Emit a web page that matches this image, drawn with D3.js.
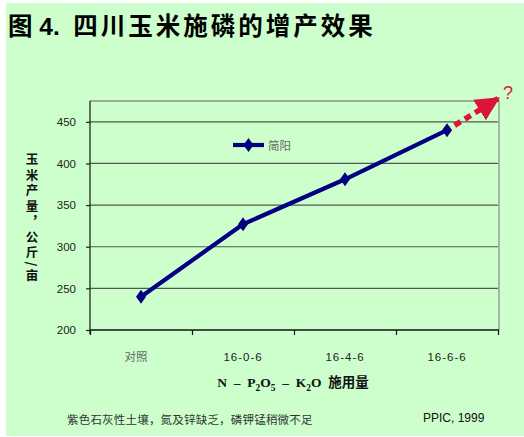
<!DOCTYPE html>
<html>
<head>
<meta charset="utf-8">
<script src="https://cdn.jsdelivr.net/npm/d3@7/dist/d3.min.js"></script>
<style>
  html, body { margin: 0; padding: 0; background: #fff; }
  svg { display: block; }
</style>
</head>
<body>
<svg id="chart" width="524" height="437"></svg>
<script>
// Fertiliser treatments (N-P2O5-K2O) and maize yield, kg/mu
const categories = ["对照", "16-0-6", "16-4-6", "16-6-6"];
const yieldJianyang = [240, 327, 381, 440];
const yTicks = [200, 250, 300, 350, 400, 450];
// Projected further gain beyond the last treatment (category index, yield)
const projection = [[3, 440], [3.5, 478]];

const svg = d3.select("#chart");
const W = 524, H = 437;

// Page background
svg.append("rect").attr("x", 6).attr("y", 3).attr("width", W - 6).attr("height", H - 4)
  .attr("fill", "#ccffcc");

// Title
const title = svg.append("text")
  .attr("x", 8).attr("y", 35)
  .attr("font-family", "Liberation Sans, Arial, 'Noto Sans CJK SC', sans-serif")
  .attr("font-weight", "bold").attr("font-size", 24.5)
  .attr("fill", "#000")
  .style("white-space", "pre");
title.append("tspan").text("图 4.  ");
title.append("tspan").attr("letter-spacing", 3).text("四川玉米施磷的增产效果");

const plot = { left: 90, right: 498, top: 101, bottom: 330 };

const x = d3.scaleLinear().domain([-0.5, categories.length - 0.5]).range([plot.left, plot.right]);
const y = d3.scaleLinear().domain([200, 475]).range([plot.bottom, plot.top]);

// Plot frame (top and right edges)
svg.append("path")
  .attr("d", `M${plot.left},${plot.top}H${plot.right + 1}V${plot.bottom}`)
  .attr("fill", "none").attr("stroke", "#8a948a").attr("stroke-width", 1.3);

// Horizontal gridlines
svg.append("g").selectAll("line").data(yTicks.filter(v => v > 200)).join("line")
  .attr("x1", plot.left).attr("x2", plot.right)
  .attr("y1", d => y(d)).attr("y2", d => y(d))
  .attr("stroke", "#4d5a4d").attr("stroke-width", 1.2);

// Y axis
const yAxis = svg.append("g")
  .attr("transform", `translate(${plot.left},0)`)
  .call(d3.axisLeft(y).tickValues(yTicks).tickSize(4).tickPadding(10));
yAxis.select(".domain").attr("stroke", "#222").attr("stroke-width", 1.3)
  .attr("d", `M0,${plot.top}V${plot.bottom + 4}`);
yAxis.selectAll(".tick line").attr("stroke", "#222").attr("stroke-width", 1.2);
yAxis.selectAll(".tick text")
  .attr("font-family", "Liberation Sans, Arial, sans-serif")
  .attr("font-size", 11.5).attr("fill", "#222");

// X axis with ticks at category boundaries
const boundaries = d3.range(categories.length + 1).map(i => i - 0.5);
const xAxis = svg.append("g")
  .attr("transform", `translate(0,${plot.bottom})`)
  .call(d3.axisBottom(x).tickValues(boundaries).tickSize(5).tickFormat(""));
xAxis.select(".domain").attr("stroke", "#111").attr("stroke-width", 1.3)
  .attr("d", `M${plot.left},0H${plot.right + 1}`);
xAxis.selectAll(".tick line").attr("stroke", "#111").attr("stroke-width", 1.2);

// Category labels
svg.append("g").selectAll("text").data(categories).join("text")
  .attr("x", (d, i) => x(i) + (i === 0 ? -5 : 0))
  .attr("y", plot.bottom + 31)
  .attr("text-anchor", "middle")
  .attr("font-family", (d, i) => i === 0 ? "'Noto Sans CJK SC', sans-serif" : "Liberation Sans, Arial, sans-serif")
  .attr("font-size", 11.5)
  .attr("letter-spacing", (d, i) => i === 0 ? 0 : 1)
  .attr("fill", (d, i) => i === 0 ? "#666" : "#222")
  .text(d => d);

// X axis title: N - P2O5 - K2O 施用量
const xt = svg.append("text")
  .attr("x", 293).attr("y", 387)
  .attr("text-anchor", "middle")
  .attr("font-family", "Liberation Serif, 'Times New Roman', 'Noto Sans CJK SC', serif")
  .attr("font-weight", "bold").attr("font-size", 13.5).attr("fill", "#111")
  .style("white-space", "pre");
xt.append("tspan").text("N  –  P");
xt.append("tspan").attr("font-size", 9.5).attr("dy", 3.5).text("2");
xt.append("tspan").attr("dy", -3.5).text("O");
xt.append("tspan").attr("font-size", 9.5).attr("dy", 3.5).text("5");
xt.append("tspan").attr("dy", -3.5).text("  –  K");
xt.append("tspan").attr("font-size", 9.5).attr("dy", 3.5).text("2");
xt.append("tspan").attr("dy", -3.5).text("O  ");
xt.append("tspan").attr("font-family", "'Noto Sans CJK SC', sans-serif").text("施用量");

// Y axis title, set in vertical writing mode
svg.append("text")
  .attr("x", 32).attr("y", 153)
  .attr("font-family", "'Noto Sans CJK SC', sans-serif")
  .attr("font-weight", "bold").attr("font-size", 12.5).attr("fill", "#111")
  .attr("letter-spacing", 3)
  .style("writing-mode", "vertical-rl")
  .text("玉米产量，公斤/亩");

// Projection arrow (red, dashed)
const defs = svg.append("defs");
defs.append("marker")
  .attr("id", "arrowhead").attr("viewBox", "0 0 10 10")
  .attr("refX", 9).attr("refY", 5)
  .attr("markerWidth", 4.4).attr("markerHeight", 4.4)
  .attr("markerUnits", "strokeWidth")
  .attr("orient", "auto")
  .append("path").attr("d", "M0,0L10,5L0,10Z").attr("fill", "#dc143c");

const line = d3.line().x(d => x(d[0])).y(d => y(d[1]));
svg.append("path")
  .datum(projection)
  .attr("d", line)
  .attr("fill", "none").attr("stroke", "#dc143c")
  .attr("stroke-width", 5.5).attr("stroke-dasharray", "7,5")
  .attr("stroke-dashoffset", -9)
  .attr("marker-end", "url(#arrowhead)");

svg.append("text")
  .attr("x", x(3.5) + 10).attr("y", y(478))
  .attr("text-anchor", "middle")
  .attr("font-family", "Liberation Sans, Arial, sans-serif")
  .attr("font-size", 18).attr("fill", "#dc143c")
  .text("?");

// Yield series
const series = yieldJianyang.map((v, i) => [i, v]);
svg.append("path")
  .datum(series)
  .attr("d", line)
  .attr("fill", "none").attr("stroke", "#000080")
  .attr("stroke-width", 4.2).attr("stroke-linejoin", "round");

const diamond = "M0,-7L5,0L0,7L-5,0Z";
svg.append("g").selectAll("path").data(series).join("path")
  .attr("transform", d => `translate(${x(d[0])},${y(d[1])})`)
  .attr("d", diamond).attr("fill", "#000080");

// Legend
const lg = svg.append("g").attr("transform", "translate(233,145)");
lg.append("line").attr("x1", 0).attr("x2", 31).attr("y1", 0).attr("y2", 0)
  .attr("stroke", "#000080").attr("stroke-width", 4.2);
lg.append("path").attr("transform", "translate(15.5,0)").attr("d", diamond).attr("fill", "#000080");
lg.append("text").attr("x", 35).attr("y", 4.5)
  .attr("font-family", "'Noto Sans CJK SC', sans-serif")
  .attr("font-size", 11.5).attr("fill", "#666")
  .text("简阳");

// Footnotes
svg.append("text")
  .attr("x", 67).attr("y", 423.5)
  .attr("font-family", "'Noto Sans CJK SC', sans-serif")
  .attr("font-size", 11.5).attr("fill", "#333")
  .attr("letter-spacing", 0.2)
  .text("紫色石灰性土壤，氮及锌缺乏，磷钾锰稍微不足");

svg.append("text")
  .attr("x", 423).attr("y", 422)
  .attr("font-family", "Liberation Sans, Arial, sans-serif")
  .attr("font-size", 12).attr("fill", "#111")
  .text("PPIC, 1999");
</script>
</body>
</html>
